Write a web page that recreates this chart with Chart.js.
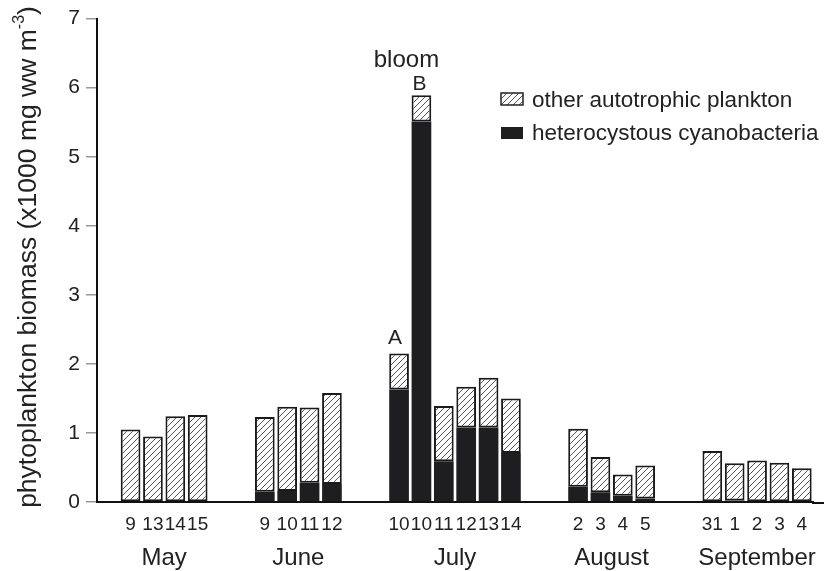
<!DOCTYPE html>
<html>
<head>
<meta charset="utf-8">
<script src="https://cdn.jsdelivr.net/npm/chart.js@4.4.0/dist/chart.umd.min.js"></script>
<style>
html, body { margin: 0; padding: 0; background: #fff; }
</style>
</head>
<body>
<canvas id="bioChart" width="824" height="571"></canvas>
<script>
// sampling days, '' = gap between months
const dayLabels = ['', '9', '13', '14', '15', '', '', '9', '10', '11', '12', '', '',
    '10', '10', '11', '12', '13', '14', '', '', '2', '3', '4', '5', '', '',
    '31', '1', '2', '3', '4'];

// x1000 mg ww m-3
const cyano = [null, 0, 0, 0, 0, null, null, 0.15, 0.16, 0.28, 0.26, null, null,
    1.63, 5.51, 0.59, 1.08, 1.08, 0.71, null, null, 0.22, 0.14, 0.09, 0.05, null, null,
    0, 0.02, 0, 0, 0];
const otherAuto = [null, 1.05, 0.95, 1.24, 1.26, null, null, 1.08, 1.22, 1.09, 1.32, null, null,
    0.52, 0.38, 0.80, 0.59, 0.72, 0.79, null, null, 0.84, 0.51, 0.31, 0.48, null, null,
    0.74, 0.54, 0.60, 0.57, 0.49];

const months = ['May', 'June', 'July', 'August', 'September'];
const monthFirst = [1, 7, 13, 21, 27];
const monthLast = [4, 10, 18, 24, 31];

const yTicks = [0, 1, 2, 3, 4, 5, 6, 7];

const FONT = '"Liberation Sans", Arial, Helvetica, sans-serif';
const TXT = '#222';

function makeHatch() {
    const c = document.createElement('canvas');
    c.width = 6; c.height = 6;
    const g = c.getContext('2d');
    g.fillStyle = '#fff';
    g.fillRect(0, 0, 6, 6);
    g.strokeStyle = '#555';
    g.lineWidth = 1;
    g.beginPath();
    g.moveTo(0, 6); g.lineTo(6, 0);
    g.moveTo(-1, 1); g.lineTo(1, -1);
    g.moveTo(5, 7); g.lineTo(7, 5);
    g.stroke();
    return g.createPattern(c, 'repeat');
}
const hatch = makeHatch();

// month names, A/B/bloom, legend, axis title
const extras = {
    id: 'extras',
    afterDraw(chart) {
        const { ctx, chartArea, scales: { x, y } } = chart;
        ctx.save();

        // baseline runs to the right edge
        ctx.strokeStyle = '#111';
        ctx.lineWidth = 2;
        ctx.beginPath();
        ctx.moveTo(chartArea.right - 1, chartArea.bottom + 1);
        ctx.lineTo(chart.width, chartArea.bottom + 1);
        ctx.stroke();

        ctx.fillStyle = TXT;
        ctx.textAlign = 'center';
        ctx.textBaseline = 'alphabetic';

        ctx.font = '24px ' + FONT;
        months.forEach((m, i) => {
            const cx = (x.getPixelForValue(monthFirst[i]) + x.getPixelForValue(monthLast[i])) / 2;
            ctx.fillText(m, cx, chartArea.bottom + 63);
        });

        ctx.font = '21px ' + FONT;
        const topA = y.getPixelForValue(cyano[13] + otherAuto[13]);
        const topB = y.getPixelForValue(cyano[14] + otherAuto[14]);
        ctx.fillText('A', x.getPixelForValue(13) - 4, topA - 10);
        ctx.fillText('B', x.getPixelForValue(14) - 2, topB - 5);
        ctx.font = '24px ' + FONT;
        ctx.fillText('bloom', x.getPixelForValue(14) - 15, topB - 28);

        // legend
        ctx.textAlign = 'left';
        ctx.lineWidth = 1.5;
        ctx.strokeStyle = '#222';
        ctx.fillStyle = hatch;
        ctx.fillRect(501, 93, 22, 12);
        ctx.strokeRect(501, 93, 22, 12);
        ctx.fillStyle = '#1e1e20';
        ctx.fillRect(501, 127, 22, 12);
        ctx.fillStyle = TXT;
        ctx.font = '22.5px ' + FONT;
        ctx.fillText('other autotrophic plankton', 532, 107);
        ctx.fillText('heterocystous cyanobacteria', 532, 140);

        // y title with superscript
        ctx.translate(36, 257);
        ctx.rotate(-Math.PI / 2);
        const main = 'phytoplankton biomass (x1000 mg ww m';
        ctx.font = '26.5px ' + FONT;
        const w1 = ctx.measureText(main).width;
        const w3 = ctx.measureText(')').width;
        ctx.font = '16px ' + FONT;
        const w2 = ctx.measureText('-3').width;
        const sx = -(w1 + w2 + w3) / 2;
        ctx.font = '26.5px ' + FONT;
        ctx.fillText(main, sx, 0);
        ctx.font = '16px ' + FONT;
        ctx.fillText('-3', sx + w1, -12);
        ctx.font = '26.5px ' + FONT;
        ctx.fillText(')', sx + w1 + w2, 0);

        ctx.restore();
    }
};

const ctx = document.getElementById('bioChart').getContext('2d');
const bioChart = new Chart(ctx, {
    type: 'bar',
    data: {
        labels: dayLabels,
        datasets: [{
            label: 'heterocystous cyanobacteria',
            data: cyano,
            backgroundColor: '#1e1e20',
            borderColor: '#1e1e20',
            borderWidth: 0
        }, {
            label: 'other autotrophic plankton',
            data: otherAuto,
            backgroundColor: hatch,
            borderColor: '#1a1a1a',
            borderWidth: 2,
            borderSkipped: false
        }]
    },
    options: {
        responsive: false,
        animation: false,
        layout: { padding: { top: 17, right: 11, left: 0, bottom: 0 } },
        datasets: {
            bar: { barPercentage: 0.88, categoryPercentage: 1 }
        },
        plugins: {
            legend: { display: false },
            tooltip: { enabled: false }
        },
        scales: {
            x: {
                stacked: true,
                grid: { display: false },
                border: { color: '#111', width: 2 },
                ticks: {
                    autoSkip: false,
                    maxRotation: 0,
                    minRotation: 0,
                    padding: 3,
                    color: TXT,
                    font: { size: 19, family: FONT }
                },
                afterFit: s => { s.height = 69; }
            },
            y: {
                stacked: true,
                min: 0,
                max: 7,
                afterBuildTicks: s => { s.ticks = yTicks.map(v => ({ value: v })); },
                grid: { drawOnChartArea: false, tickLength: 11, color: '#999', lineWidth: 1.5 },
                border: { color: '#111', width: 2 },
                ticks: {
                    padding: 6,
                    color: TXT,
                    font: { size: 21, family: FONT }
                },
                afterFit: s => { s.width = 97; }
            }
        }
    },
    plugins: [extras]
});
</script>
</body>
</html>
